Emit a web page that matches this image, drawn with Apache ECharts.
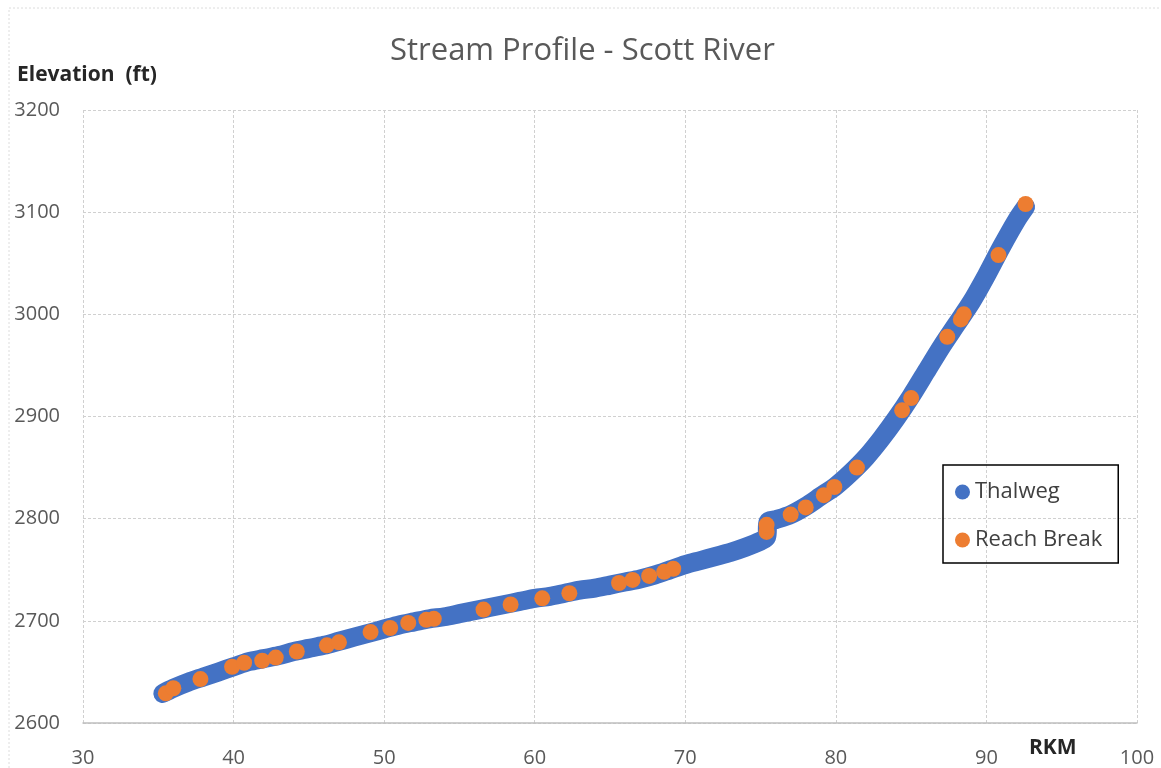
<!DOCTYPE html>
<html>
<head>
<meta charset="utf-8">
<script src="https://cdn.jsdelivr.net/npm/echarts@6/dist/echarts.min.js"></script>
<style>
  html, body { margin: 0; padding: 0; background: #fff; }
  #chart { width: 1161px; height: 768px; }
</style>
</head>
<body>
<div id="chart"></div>
<script>
// 数据：河道剖面（RKM, 高程 ft）
const thalwegRkm = [35.3, 36, 37, 38, 39, 40, 41, 42, 43, 44, 45, 46, 47, 48, 49, 50, 51, 52, 53, 54,
  55, 56, 57, 58, 59, 60, 61, 62, 63, 64, 65, 66, 67, 68, 69, 70, 71, 72, 73, 74, 75, 75.4, 75.5,
  76, 77, 78, 79, 80, 81, 82, 83, 84, 85, 86, 87, 88, 89, 90, 91, 92, 92.6];
const thalwegElev = [2629, 2634, 2640, 2645, 2650, 2655, 2660, 2663, 2666, 2670, 2673, 2676, 2680, 2684, 2688, 2692, 2696, 2699, 2702, 2704,
  2707, 2710, 2713, 2716, 2719, 2722, 2724, 2727, 2730, 2732, 2735, 2738, 2741, 2745, 2750, 2755, 2759, 2763, 2767, 2772, 2778, 2782, 2797,
  2799, 2804, 2812, 2822, 2832, 2845, 2860, 2878, 2898, 2920, 2944, 2968, 2990, 3012, 3038, 3066, 3092, 3105];

const breakRkm = [35.5, 36.0, 37.8, 39.9, 40.7, 41.9, 42.8, 44.2, 46.2, 47.0, 49.1, 50.4, 51.6, 52.8, 53.3,
  56.6, 58.4, 60.5, 62.3, 65.6, 66.5, 67.6, 68.6, 69.2, 75.4, 75.4, 77.0, 78.0, 79.2, 79.9, 81.4,
  84.4, 85.0, 87.4, 88.3, 88.5, 90.8, 92.6];
const breakElev = [2629, 2634, 2643, 2655, 2659, 2661, 2664, 2670, 2676, 2679, 2689, 2693, 2698, 2701, 2702,
  2711, 2716, 2722, 2727, 2737, 2740, 2744, 2748, 2751, 2787, 2794, 2804, 2811, 2823, 2831, 2850,
  2906, 2918, 2978, 2995, 3000, 3058, 3108];

const xTicks = { min: 30, max: 100, interval: 10 };
const yTicks = { min: 2600, max: 3200, interval: 100 };

function zip(xs, ys) {
  return xs.map((x, i) => [x, ys[i]]);
}

const myChart = echarts.init(document.getElementById('chart'));

const option = {
  backgroundColor: '#fff',
  animation: false,
  title: {
    text: 'Stream Profile - Scott River',
    left: 390,
    top: 36,
    padding: 0,
    textStyle: {
      fontFamily: 'Open Sans',
      fontSize: 31,
      fontWeight: 'normal',
      color: '#595959'
    }
  },
  grid: { left: 83, right: 24, top: 110, bottom: 45 },
  legend: {
    orient: 'vertical',
    left: 943,
    top: 465,
    padding: [16, 16, 12, 12],
    itemGap: 26,
    itemWidth: 15,
    itemHeight: 15,
    borderColor: '#000',
    borderWidth: 1.5,
    textStyle: { fontFamily: 'Open Sans', fontSize: 22, color: '#404040' },
    data: [
      { name: 'Thalweg', icon: 'circle' },
      { name: 'Reach Break', icon: 'circle' }
    ]
  },
  xAxis: {
    type: 'value',
    min: xTicks.min,
    max: xTicks.max,
    interval: xTicks.interval,
    axisLine: { show: true, lineStyle: { color: '#bfbfbf', width: 1.5 } },
    axisTick: { show: false },
    axisLabel: { color: '#595959', fontSize: 20, margin: 25, fontFamily: 'Open Sans' },
    splitLine: { show: true, lineStyle: { color: '#d0d0d0', type: [3, 2] } }
  },
  yAxis: {
    type: 'value',
    min: yTicks.min,
    max: yTicks.max,
    interval: yTicks.interval,
    axisLine: { show: false },
    axisTick: { show: false },
    axisLabel: {
      color: '#595959', fontSize: 20, margin: 23, fontFamily: 'Open Sans',
      formatter: function(v) { return String(v); }
    },
    splitLine: { show: true, lineStyle: { color: '#d0d0d0', type: [3, 2] } }
  },
  graphic: [
    {
      type: 'polyline',
      shape: { points: [[9, 768], [9, 8], [1161, 8]] },
      style: { stroke: '#dcdcdc', lineWidth: 1, lineDash: [2, 2], fill: null }
    },
    {
      type: 'text', left: 17, top: 65,
      style: { text: 'Elevation  (ft)', fontFamily: 'Open Sans', fontSize: 21, fontWeight: 'bold', fill: '#262626' }
    },
    {
      type: 'text', left: 1029, top: 738,
      style: { text: 'RKM', fontFamily: 'Open Sans', fontSize: 21, fontWeight: 'bold', fill: '#262626' }
    }
  ],
  series: [
    {
      name: 'Thalweg',
      type: 'line',
      data: zip(thalwegRkm, thalwegElev),
      showSymbol: false,
      smooth: 0.3,
      itemStyle: { color: '#4472C4' },
      lineStyle: { color: '#4472C4', width: 19, cap: 'round', join: 'round' },
      z: 2
    },
    {
      name: 'Reach Break',
      type: 'scatter',
      data: zip(breakRkm, breakElev),
      symbolSize: 16,
      itemStyle: { color: '#ED7D31', opacity: 1 },
      z: 3
    }
  ]
};

myChart.setOption(option);

window.addEventListener('resize', function() {
  myChart.resize();
});
</script>
</body>
</html>
